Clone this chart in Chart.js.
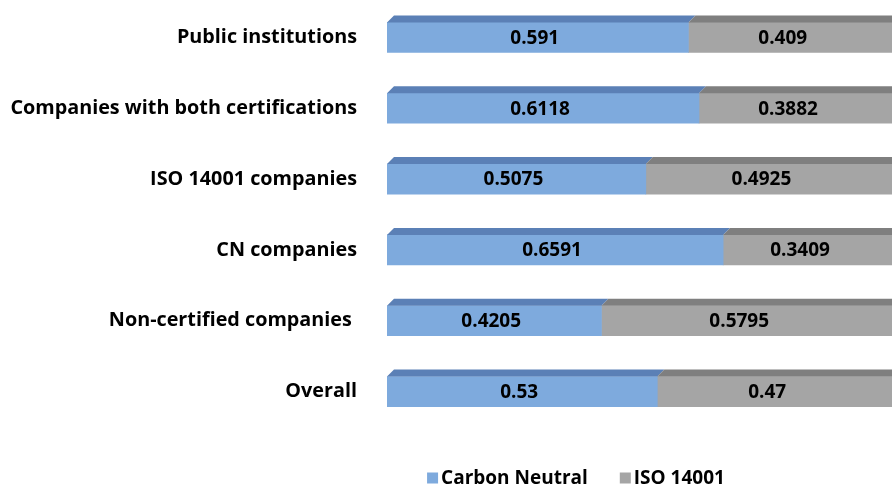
<!DOCTYPE html>
<html>
<head>
<meta charset="utf-8">
<script src="https://cdn.jsdelivr.net/npm/chart.js@4"></script>
<style>
  html, body { margin: 0; padding: 0; background: #ffffff; overflow: hidden; width: 892px; height: 488px; }
  #wrap { width: 900px; height: 488px; }
</style>
</head>
<body>
<div id="wrap"><canvas id="c" width="900" height="488"></canvas></div>
<script>
const categories = [
  "Public institutions",
  "Companies with both certifications",
  "ISO 14001 companies",
  "CN companies",
  "Non-certified companies ",
  "Overall"
];
const carbonNeutral = [0.591, 0.6118, 0.5075, 0.6591, 0.4205, 0.53];
const iso14001 = [0.409, 0.3882, 0.4925, 0.3409, 0.5795, 0.47];
const seriesNames = ["Carbon Neutral", "ISO 14001"];

const FONT = "'Open Sans', Lato, sans-serif";

const bar3d = {
  id: 'bar3d',
  afterDatasetsDraw(chart, args, opts) {
    const ctx = chart.ctx;
    const dx = opts.dx, dy = opts.dy;
    chart.data.datasets.forEach((ds, di) => {
      const meta = chart.getDatasetMeta(di);
      meta.data.forEach(el => {
        const l = Math.min(el.base, el.x), r = Math.max(el.base, el.x);
        const t = el.y - el.height / 2, b = el.y + el.height / 2;
        ctx.save();
        ctx.fillStyle = ds.topColor;
        ctx.beginPath();
        ctx.moveTo(l, t);
        ctx.lineTo(l + dx, t - dy);
        ctx.lineTo(r + dx, t - dy);
        ctx.lineTo(r, t);
        ctx.closePath();
        ctx.fill();
        if (di === chart.data.datasets.length - 1) {
          ctx.fillStyle = ds.sideColor;
          ctx.beginPath();
          ctx.moveTo(r, t);
          ctx.lineTo(r + dx, t - dy);
          ctx.lineTo(r + dx, b - dy);
          ctx.lineTo(r, b);
          ctx.closePath();
          ctx.fill();
        }
        ctx.restore();
      });
    });
  }
};

const barLabels = {
  id: 'barLabels',
  afterDatasetsDraw(chart, args, opts) {
    const ctx = chart.ctx;
    ctx.save();
    ctx.font = opts.font;
    ctx.fillStyle = '#000';
    ctx.textAlign = 'center';
    ctx.textBaseline = 'middle';
    chart.data.datasets.forEach((ds, di) => {
      const meta = chart.getDatasetMeta(di);
      meta.data.forEach((el, i) => {
        const cx = (el.base + el.x) / 2 + opts.shift[di];
        ctx.fillText(String(ds.data[i]), cx, el.y + 1);
      });
    });
    ctx.restore();
  }
};

const customLegend = {
  id: 'customLegend',
  afterDraw(chart, args, opts) {
    const ctx = chart.ctx;
    ctx.save();
    ctx.font = opts.font;
    ctx.textBaseline = 'middle';
    ctx.textAlign = 'left';
    const box = opts.box, gapBox = opts.gapBox, gapItem = opts.gapItem;
    const items = chart.data.datasets.map(ds => ({ text: ds.label, color: ds.backgroundColor, w: ctx.measureText(ds.label).width }));
    let total = 0;
    items.forEach((it, i) => { total += box + gapBox + it.w + (i < items.length - 1 ? gapItem : 0); });
    let x = opts.centerX - total / 2;
    const y = opts.y;
    items.forEach(it => {
      ctx.fillStyle = it.color;
      ctx.fillRect(x, y - box / 2, box, box);
      x += box + gapBox;
      ctx.fillStyle = '#000';
      ctx.fillText(it.text, x, y + 1);
      x += it.w + gapItem;
    });
    ctx.restore();
  }
};

new Chart(document.getElementById('c'), {
  type: 'bar',
  data: {
    labels: categories,
    datasets: [
      { label: seriesNames[0], data: carbonNeutral, backgroundColor: '#7eaadd', topColor: '#5b80b6', sideColor: '#5b80b6', barThickness: 30, borderWidth: 0 },
      { label: seriesNames[1], data: iso14001, backgroundColor: '#a5a5a5', topColor: '#7f7f7f', sideColor: '#8a8a8a', barThickness: 30, borderWidth: 0 }
    ]
  },
  options: {
    indexAxis: 'y',
    responsive: false,
    animation: false,
    devicePixelRatio: 1,
    layout: { padding: { top: 2, bottom: 61, left: 0, right: 3 } },
    scales: {
      x: { stacked: true, min: 0, max: 1, display: false },
      y: {
        stacked: true,
        grid: { display: false, drawTicks: false },
        border: { display: false },
        ticks: { color: '#000', font: { family: FONT, size: 19.8, weight: 'bold' }, padding: 30, autoSkip: false },
        afterFit(scale) { scale.width = 387; scale.paddingTop = 0; scale.paddingBottom = 0; }
      }
    },
    plugins: {
      legend: { display: false },
      tooltip: { enabled: false },
      bar3d: { dx: 7, dy: 7 },
      barLabels: { font: 'bold 19px ' + FONT, shift: [-3, -10] },
      customLegend: { font: 'bold 19px ' + FONT, box: 11, gapBox: 3, gapItem: 32, centerX: 576, y: 478 }
    }
  },
  plugins: [bar3d, barLabels, customLegend]
});
</script>
</body>
</html>
